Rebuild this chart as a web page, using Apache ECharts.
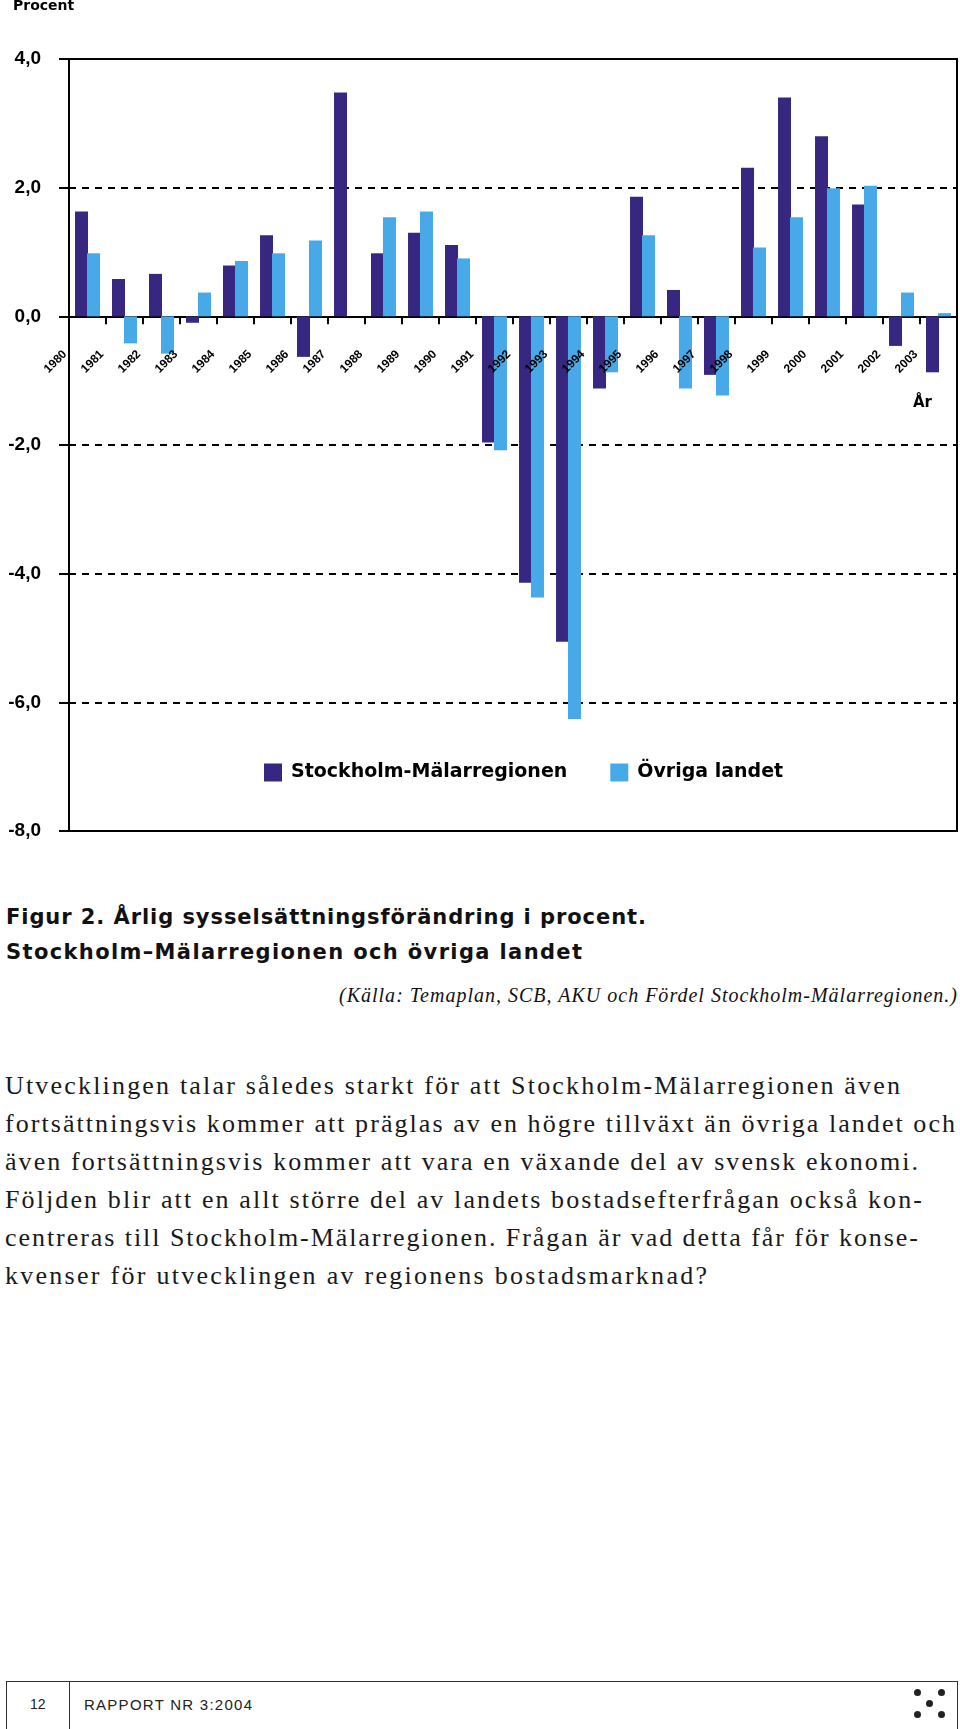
<!DOCTYPE html>
<html>
<head>
<meta charset="utf-8">
<script src="https://cdn.jsdelivr.net/npm/echarts@6.0.0/dist/echarts.min.js"></script>
<style>
  html, body { margin: 0; padding: 0; background: #fff; }
  body { width: 960px; height: 1729px; position: relative; overflow: hidden; }
  #chart { position: absolute; left: 0; top: 0; width: 960px; height: 860px; }
  .t { position: absolute; white-space: nowrap; color: #111; }
  .cap { font-family: 'DejaVu Sans', 'Liberation Sans', sans-serif; font-weight: bold; font-size: 21px; line-height: 21px; }
  .src { font-family: 'Liberation Serif', 'Times New Roman', serif; font-style: italic; font-size: 20px; line-height: 20px; }
  .body { font-family: 'Liberation Serif', 'Times New Roman', serif; font-size: 26px; line-height: 26px; color: #1a1a1a; }
  .foot { font-family: 'Liberation Sans', Arial, sans-serif; font-size: 14px; line-height: 14px; color: #222; }
  .ln { position: absolute; background: #333; }
  .dot { position: absolute; width: 7px; height: 7px; border-radius: 50%; background: #222; }
</style>
</head>
<body>
<div id="chart"></div>

<div class="t cap" id="cap1" style="left:6px; top:907px;">Figur 2. Årlig sysselsättningsförändring i procent.</div>
<div class="t cap" id="cap2" style="left:6px; top:942px;">Stockholm–Mälarregionen och övriga landet</div>
<div class="t src" id="src" style="left:340px; top:985px;">(Källa: Temaplan, SCB, AKU och Fördel Stockholm-Mälarregionen.)</div>

<div class="t body" id="b1" style="left:5px; top:1073px;">Utvecklingen talar således starkt för att Stockholm-Mälarregionen även</div>
<div class="t body" id="b2" style="left:5px; top:1111px;">fortsättningsvis kommer att präglas av en högre tillväxt än övriga landet och</div>
<div class="t body" id="b3" style="left:5px; top:1149px;">även fortsättningsvis kommer att vara en växande del av svensk ekonomi.</div>
<div class="t body" id="b4" style="left:5px; top:1187px;">Följden blir att en allt större del av landets bostadsefterfrågan också kon-</div>
<div class="t body" id="b5" style="left:5px; top:1225px;">centreras till Stockholm-Mälarregionen. Frågan är vad detta får för konse-</div>
<div class="t body" id="b6" style="left:5px; top:1263px;">kvenser för utvecklingen av regionens bostadsmarknad?</div>

<div class="ln" style="left:6px; top:1681px; width:952px; height:1px;"></div>
<div class="ln" style="left:6px; top:1681px; width:1px; height:48px;"></div>
<div class="ln" style="left:69px; top:1681px; width:1px; height:48px;"></div>
<div class="ln" style="left:957px; top:1681px; width:1px; height:48px;"></div>
<div class="t foot" id="pg" style="left:30px; top:1697px;">12</div>
<div class="t foot" id="rap" style="left:84px; top:1697px; font-size:15px; line-height:15px;">RAPPORT NR 3:2004</div>
<div class="dot" style="left:914px; top:1689px;"></div>
<div class="dot" style="left:938px; top:1689px;"></div>
<div class="dot" style="left:926px; top:1700px;"></div>
<div class="dot" style="left:914px; top:1711px;"></div>
<div class="dot" style="left:938px; top:1711px;"></div>

<script>
// ---- data ----
const years = ['1980','1981','1982','1983','1984','1985','1986','1987','1988','1989','1990','1991',
               '1992','1993','1994','1995','1996','1997','1998','1999','2000','2001','2002','2003'];
const stockholm = [1.63, 0.58, 0.66, -0.10, 0.79, 1.26, -0.63, 3.48, 0.98, 1.30, 1.11, -1.96,
                   -4.14, -5.06, -1.12, 1.86, 0.41, -0.91, 2.31, 3.40, 2.80, 1.74, -0.46, -0.87];
const ovriga = [0.98, -0.42, -0.58, 0.37, 0.86, 0.98, 1.18, 0.00, 1.54, 1.63, 0.90, -2.08,
                -4.37, -6.26, -0.87, 1.26, -1.12, -1.23, 1.07, 1.54, 1.99, 2.03, 0.37, 0.05];
const seriesNames = ['Stockholm-Mälarregionen', 'Övriga landet'];
const yMin = -8, yMax = 4, yStep = 2;
// year tick labels sit on category boundaries (one extra empty slot at the end)
const yearTickLabels = years.concat(['']);

const DARK = '#382780';
const LIGHT = '#47a9e7';
const sansB = 'Liberation Sans';

const chart = echarts.init(document.getElementById('chart'), null, { renderer: 'canvas' });
const plot = { left: 69, top: 59, width: 888, height: 772 };
// label band: upper part of the plot, from yMax down to zero, so its bottom edge is the zero line
const labelBand = { left: 65, top: plot.top, width: plot.width, height: plot.height * (yMax - 0) / (yMax - yMin) };

chart.setOption({
  animation: false,
  grid: [
    Object.assign({ show: true, borderColor: '#000', borderWidth: 2, backgroundColor: 'transparent' }, plot),
    Object.assign({ show: false }, labelBand)
  ],
  legend: {
    data: seriesNames,
    left: 259, top: 758,
    itemWidth: 18, itemHeight: 18, itemGap: 43,
    icon: 'rect',
    selectedMode: false,
    textStyle: { fontFamily: 'DejaVu Sans', fontWeight: 'bold', fontSize: 19, color: '#000', padding: [0, 0, 0, 4] }
  },
  xAxis: [
    {
      type: 'category', gridIndex: 0, data: years, boundaryGap: true,
      axisLine: { onZero: true, lineStyle: { color: '#000', width: 2 } },
      axisTick: { show: true, inside: false, length: 8, interval: 0, lineStyle: { color: '#000', width: 2 } },
      axisLabel: { show: false },
      splitLine: { show: false }
    },
    {
      type: 'category', gridIndex: 1, data: yearTickLabels, boundaryGap: false, position: 'bottom',
      z: 20,
      axisLine: { show: false, onZero: false },
      axisTick: { show: false },
      axisLabel: { show: true, interval: 0, rotate: 45, margin: 36,
        fontFamily: sansB, fontWeight: 'bold', fontSize: 12, color: '#000' },
      splitLine: { show: false }
    }
  ],
  yAxis: [
    {
      type: 'value', gridIndex: 0, min: yMin, max: yMax, interval: yStep,
      axisLine: { show: true, lineStyle: { color: '#000', width: 2 } },
      axisTick: { show: true, length: 10, lineStyle: { color: '#000', width: 2 } },
      axisLabel: { margin: 28, fontFamily: sansB, fontWeight: 'bold', fontSize: 19, color: '#000',
        formatter: v => v.toFixed(1).replace('.', ',') },
      splitLine: { show: true, lineStyle: { color: '#000', width: 2, type: [7, 6] } }
    },
    {
      type: 'value', gridIndex: 1, min: 0, max: yMax, interval: yStep,
      axisLine: { show: false }, axisTick: { show: false }, axisLabel: { show: false },
      splitLine: { show: false }
    }
  ],
  graphic: [
    { type: 'text', left: 13, top: -1, style: { text: 'Procent', font: 'bold 14px "DejaVu Sans"', fill: '#000' } },
    { type: 'text', left: 913, top: 396, style: { text: 'År', font: 'bold 15px "DejaVu Sans"', fill: '#000' } }
  ],
  series: [
    { name: seriesNames[0], type: 'bar', xAxisIndex: 0, yAxisIndex: 0, data: stockholm,
      barWidth: 13, barGap: '-8%', itemStyle: { color: DARK } },
    { name: seriesNames[1], type: 'bar', xAxisIndex: 0, yAxisIndex: 0, data: ovriga,
      barWidth: 13, barGap: '-8%', itemStyle: { color: LIGHT } }
  ]
});

// ---- fit page text widths (letter spacing) ----
function fit(id, target) {
  const el = document.getElementById(id);
  el.style.letterSpacing = '0px';
  const w = el.getBoundingClientRect().width;
  const n = el.textContent.length;
  el.style.letterSpacing = ((target - w) / Math.max(1, n - 1)) + 'px';
}
function layoutText() {
  fit('cap1', 640);
  fit('cap2', 576);
  fit('src', 618);
  const s = document.getElementById('src');
  s.style.left = (958 - s.getBoundingClientRect().width) + 'px';
  fit('b1', 895); fit('b2', 950); fit('b3', 913); fit('b4', 917); fit('b5', 913); fit('b6', 702);
  fit('rap', 168);
}
if (document.fonts && document.fonts.ready) { document.fonts.ready.then(layoutText); } else { layoutText(); }
layoutText();
</script>
</body>
</html>
